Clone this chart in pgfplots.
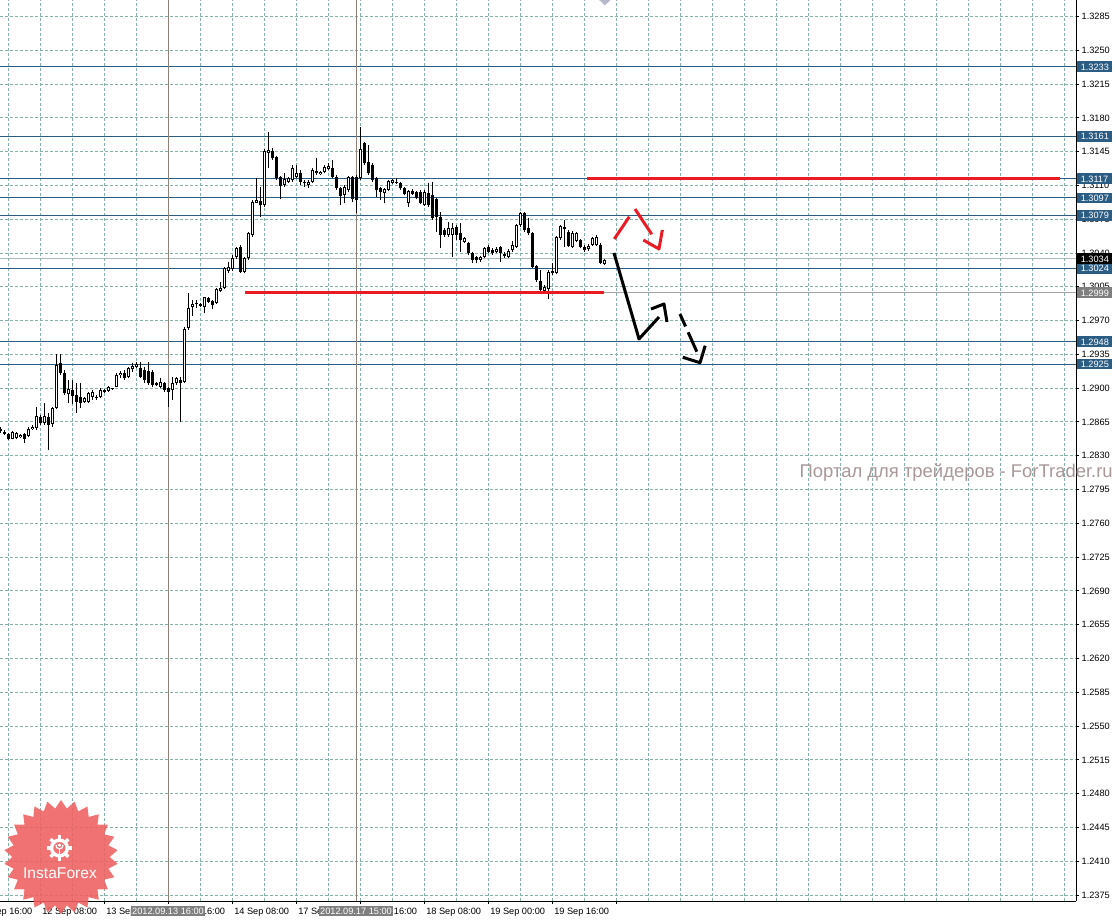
\documentclass[border=0pt]{standalone}
\usepackage{pgfplots}
\pgfplotsset{compat=1.18}
\usepackage{pgfplotstable}
\usepackage{fontspec}
\setmainfont{Liberation Sans}
\usetikzlibrary{shapes.geometric}

\definecolor{gridc}{HTML}{84B2AA}
\definecolor{levelc}{HTML}{2B5C84}
\definecolor{sepc}{HTML}{8E7F77}
\definecolor{trendred}{HTML}{EA1B24}
\definecolor{tagdark}{HTML}{7F7F7F}
\definecolor{bidc}{HTML}{A9B9BC}
\definecolor{wmark}{HTML}{A89898}
\definecolor{logored}{HTML}{EE5F5F}
\definecolor{shiftc}{HTML}{B8B8CC}

\newcommand\tfont{\fontsize{6.9}{8.3}\selectfont}

% EURUSD H1, hour index from 12 Sep 08:00 (weekend hours skipped)
\pgfplotstableread{
h O H L C
-10 1.28581 1.28595 1.28539 1.28553
-9 1.28550 1.28567 1.28515 1.28526
-8 1.28522 1.28533 1.28464 1.28470
-7 1.28477 1.28553 1.28470 1.28546
-6 1.28481 1.28546 1.28474 1.28539
-5 1.28491 1.28522 1.28484 1.28515
-4 1.28526 1.28539 1.28436 1.28477
-3 1.28505 1.28595 1.28498 1.28574
-2 1.28581 1.28619 1.28567 1.28602
-1 1.28584 1.28802 1.28567 1.28712
0 1.28698 1.28722 1.28619 1.28636
1 1.28636 1.28843 1.28619 1.28712
2 1.28698 1.28740 1.28360 1.28619
3 1.28629 1.28809 1.28602 1.28792
4 1.28798 1.29354 1.28781 1.29240
5 1.29258 1.29354 1.29137 1.29154
6 1.29161 1.29189 1.28930 1.28947
7 1.28937 1.29085 1.28843 1.28988
8 1.28981 1.29085 1.28836 1.28919
9 1.28930 1.29051 1.28747 1.28861
10 1.28912 1.29051 1.28792 1.28850
11 1.28861 1.28912 1.28843 1.28895
12 1.28861 1.28964 1.28843 1.28947
13 1.28912 1.28981 1.28878 1.28964
14 1.28912 1.28930 1.28878 1.28895
15 1.28912 1.28999 1.28895 1.28981
16 1.28964 1.28990 1.28955 1.28981
17 1.28975 1.29023 1.28964 1.29009
18 1.28999 1.29006 1.28985 1.28992
19 1.29016 1.29161 1.29009 1.29137
20 1.29137 1.29175 1.29102 1.29161
21 1.29161 1.29189 1.29085 1.29102
22 1.29120 1.29216 1.29102 1.29206
23 1.29196 1.29265 1.29171 1.29230
24 1.29223 1.29275 1.29206 1.29247
25 1.29206 1.29275 1.29102 1.29120
26 1.29189 1.29223 1.29051 1.29085
27 1.29182 1.29275 1.29033 1.29051
28 1.29171 1.29189 1.29016 1.29033
29 1.29051 1.29060 1.29025 1.29033
30 1.29016 1.29102 1.28999 1.29068
31 1.29051 1.29068 1.28964 1.28981
32 1.28999 1.29016 1.28809 1.28964
33 1.28981 1.29120 1.28878 1.29051
34 1.29051 1.29120 1.29033 1.29102
35 1.29085 1.29120 1.28653 1.29057
36 1.29067 1.29630 1.29050 1.29609
37 1.29620 1.29989 1.29602 1.29827
38 1.29837 1.29913 1.29747 1.29872
39 1.29868 1.29913 1.29827 1.29885
40 1.29868 1.29880 1.29840 1.29851
41 1.29837 1.29948 1.29775 1.29941
42 1.29930 1.29945 1.29885 1.29896
43 1.29903 1.29913 1.29816 1.29861
44 1.29879 1.30034 1.29868 1.30024
45 1.30010 1.30103 1.29999 1.30034
46 1.30034 1.30255 1.30024 1.30241
47 1.30217 1.30310 1.30189 1.30258
48 1.30231 1.30379 1.30217 1.30345
49 1.30355 1.30466 1.30338 1.30449
50 1.30466 1.30483 1.30190 1.30207
51 1.30207 1.30362 1.30190 1.30345
52 1.30345 1.30621 1.30328 1.30604
53 1.30587 1.30950 1.30570 1.30932
54 1.30922 1.31174 1.30915 1.30949
55 1.30939 1.31087 1.30777 1.30897
56 1.30897 1.31477 1.30880 1.31460
57 1.31440 1.31657 1.31277 1.31467
58 1.31457 1.31485 1.31364 1.31381
59 1.31391 1.31400 1.31157 1.31174
60 1.31191 1.31200 1.30956 1.31098
61 1.31105 1.31226 1.31087 1.31163
62 1.31139 1.31191 1.31122 1.31174
63 1.31156 1.31312 1.31140 1.31277
64 1.31184 1.31312 1.31174 1.31232
65 1.31226 1.31260 1.31105 1.31139
66 1.31139 1.31156 1.31087 1.31122
67 1.31105 1.31156 1.31070 1.31139
68 1.31139 1.31277 1.31129 1.31260
69 1.31253 1.31388 1.31208 1.31226
70 1.31215 1.31253 1.31205 1.31243
71 1.31243 1.31312 1.31226 1.31295
72 1.31270 1.31329 1.31260 1.31305
73 1.31277 1.31364 1.31174 1.31184
74 1.31191 1.31208 1.31053 1.31070
75 1.31070 1.31087 1.30897 1.30991
76 1.31001 1.31105 1.30915 1.31087
77 1.31053 1.31198 1.31036 1.31184
78 1.31191 1.31198 1.30932 1.30956
79 1.31184 1.31208 1.30811 1.30949
80 1.31174 1.31702 1.31156 1.31474
81 1.31536 1.31554 1.31312 1.31329
82 1.31346 1.31519 1.31208 1.31226
83 1.31312 1.31329 1.31139 1.31156
84 1.31174 1.31191 1.30984 1.31053
85 1.31070 1.31087 1.30949 1.31036
86 1.31025 1.31070 1.30915 1.31063
87 1.31053 1.31160 1.31040 1.31150
88 1.31122 1.31170 1.31110 1.31156
89 1.31139 1.31174 1.31115 1.31129
90 1.31122 1.31139 1.31053 1.31070
91 1.31070 1.31087 1.31001 1.31011
92 1.30922 1.31053 1.30880 1.31046
93 1.31046 1.31063 1.31001 1.31011
94 1.31036 1.31046 1.30956 1.30967
95 1.31036 1.31053 1.30905 1.30915
96 1.30897 1.31050 1.30890 1.31036
97 1.31018 1.31130 1.30880 1.30897
98 1.31001 1.31139 1.30742 1.30759
99 1.30956 1.30966 1.30621 1.30777
100 1.30777 1.30828 1.30449 1.30587
101 1.30638 1.30655 1.30570 1.30587
102 1.30587 1.30725 1.30570 1.30656
103 1.30587 1.30708 1.30362 1.30656
104 1.30673 1.30690 1.30535 1.30587
105 1.30604 1.30708 1.30414 1.30535
106 1.30518 1.30570 1.30500 1.30552
107 1.30500 1.30518 1.30379 1.30397
108 1.30397 1.30414 1.30293 1.30328
109 1.30355 1.30370 1.30293 1.30328
110 1.30328 1.30370 1.30310 1.30355
111 1.30362 1.30466 1.30345 1.30449
112 1.30466 1.30483 1.30397 1.30414
113 1.30431 1.30450 1.30380 1.30404
114 1.30414 1.30466 1.30397 1.30442
115 1.30459 1.30473 1.30310 1.30397
116 1.30390 1.30414 1.30345 1.30369
117 1.30362 1.30440 1.30345 1.30424
118 1.30431 1.30528 1.30414 1.30483
119 1.30466 1.30700 1.30450 1.30690
120 1.30690 1.30828 1.30673 1.30818
121 1.30811 1.30828 1.30621 1.30638
122 1.30656 1.30759 1.30587 1.30604
123 1.30604 1.30621 1.30241 1.30259
124 1.30266 1.30276 1.30103 1.30121
125 1.30110 1.30224 1.30000 1.30017
126 1.30010 1.30069 1.29989 1.30045
127 1.30024 1.30224 1.29920 1.30207
128 1.30217 1.30300 1.30172 1.30190
129 1.30197 1.30580 1.30180 1.30569
130 1.30552 1.30690 1.30540 1.30680
131 1.30673 1.30742 1.30466 1.30645
132 1.30621 1.30640 1.30460 1.30473
133 1.30466 1.30625 1.30450 1.30611
134 1.30528 1.30620 1.30510 1.30604
135 1.30535 1.30550 1.30450 1.30466
136 1.30466 1.30483 1.30414 1.30431
137 1.30438 1.30490 1.30420 1.30473
138 1.30483 1.30570 1.30470 1.30552
139 1.30483 1.30590 1.30470 1.30569
140 1.30483 1.30500 1.30290 1.30300
141 1.30286 1.30340 1.30280 1.30330
}\eurusd

\tikzset{
  pricetag/.style={anchor=west, text=white, font=\tfont, inner xsep=2.6pt,
    inner ysep=1.5pt, text height=5.1pt, text depth=0pt, xshift=0.75pt},
  timetag/.style={anchor=north, fill=tagdark, text=white, font=\tfont, inner xsep=1.2pt,
    inner ysep=1.3pt, text height=5.1pt, text depth=0pt, yshift=-3.6pt},
}
% a bare set of vertical segments drawn from the table as error bars
\pgfplotsset{
  candlepart/.style={draw=none, mark=none, error bars/.cd, y dir=plus, y explicit,
    error mark=none, error bar style={draw=#1}},
}

\begin{document}
\begin{tikzpicture}
\fill[white] (0,-15pt) rectangle (837pt,675.75pt);
\begin{axis}[
  at={(0,0)}, anchor=south west,
  scale only axis, width=807pt, height=675.75pt,
  xmin=-10, xmax=259, ymin=1.23688, ymax=1.33021,
  axis x line*=bottom, axis y line*=right,
  axis line style={black, line width=0.75pt, -},
  tick align=outside, major tick length=2.25pt, minor tick length=0pt,
  tick style={black, line width=0.75pt},
  clip mode=individual,
  xtick={0,16,...,144},
  xticklabels={12 Sep 08:00,13 Sep 00:00,13 Sep 16:00,14 Sep 08:00,17 Sep 00:00,17 Sep 16:00,18 Sep 08:00,19 Sep 00:00,19 Sep 16:00,{}},
  minor xtick={-8,0,...,256},
  xminorgrids,
  ytick={1.2375,1.2410,1.2445,1.2480,1.2515,1.2550,1.2585,1.2620,1.2655,1.2690,1.2725,1.2760,1.2795,1.2830,1.2865,1.2900,1.2935,1.2970,1.3005,1.3040,1.3075,1.3110,1.3145,1.3180,1.3215,1.3250,1.3285},
  yticklabels={1.2375,1.2410,1.2445,1.2480,1.2515,1.2550,1.2585,1.2620,1.2655,1.2690,1.2725,1.2760,1.2795,1.2830,1.2865,1.2900,1.2935,1.2970,1.3005,1.3040,1.3075,1.3110,1.3145,1.3180,1.3215,1.3250,1.3285},
  ymajorgrids,
  major grid style={gridc, line width=0.75pt, dash pattern=on 2.25pt off 1.5pt},
  minor grid style={gridc, line width=0.75pt, dash pattern=on 2.25pt off 1.5pt},
  xticklabel style={font=\tfont, anchor=north west, inner sep=0pt, xshift=1.5pt, yshift=-2.6pt},
  yticklabel style={font=\tfont, anchor=west, inner sep=0pt, xshift=1.8pt},
]
% horizontal levels
\addplot[levelc, line width=0.75pt] coordinates {(-10,1.3233) (259,1.3233)};
\addplot[levelc, line width=0.75pt] coordinates {(-10,1.3161) (259,1.3161)};
\addplot[levelc, line width=0.75pt] coordinates {(-10,1.3117) (259,1.3117)};
\addplot[levelc, line width=0.75pt] coordinates {(-10,1.3097) (259,1.3097)};
\addplot[levelc, line width=0.75pt] coordinates {(-10,1.3079) (259,1.3079)};
\addplot[levelc, line width=0.75pt] coordinates {(-10,1.3024) (259,1.3024)};
\addplot[levelc, line width=0.75pt] coordinates {(-10,1.2948) (259,1.2948)};
\addplot[levelc, line width=0.75pt] coordinates {(-10,1.2925) (259,1.2925)};
\addplot[bidc, line width=0.75pt] coordinates {(-10,1.3034) (259,1.3034)};
\addplot[tagdark!70, line width=0.75pt] coordinates {(141,1.2999) (259,1.2999)};
% vertical markers
\addplot[sepc, line width=0.75pt] coordinates {(32,1.23688) (32,1.33021)};
\addplot[sepc, line width=0.75pt] coordinates {(79,1.23688) (79,1.33021)};
% candle wicks
\addplot[candlepart=black, error bar style={line width=0.75pt}]
  table[x=h, y=L, y error expr={\thisrow{H}-\thisrow{L}}] {\eurusd};
% candle bodies
\addplot[candlepart=black, error bar style={line width=2.25pt}]
  table[x=h, y expr={min(\thisrow{O},\thisrow{C})}, y error expr={max(abs(\thisrow{C}-\thisrow{O}),0.0001)}] {\eurusd};
% hollow inside of rising candles
\addplot[candlepart=white, error bar style={line width=0.75pt}]
  table[x=h, y expr={\thisrow{O}+0.0001}, y error expr={max(\thisrow{C}-\thisrow{O}-0.0002,0)}] {\eurusd};
% trend lines
\addplot[trendred, line width=2.25pt] coordinates {(51.25,1.2999) (141,1.2999)};
\addplot[trendred, line width=2.25pt] coordinates {(136.75,1.3117) (255,1.3117)};
% forecast arrows
\addplot[black, line width=2.25pt, line join=round] coordinates {(143.5,1.30400) (149.75,1.29510) (154.75,1.29737)};
\addplot[black, line width=2.25pt, line join=round] coordinates {(152.75,1.29820) (156,1.29872) (156.75,1.29686)};
\addplot[black, line width=2.25pt, dash pattern=on 10.2pt off 4.8pt on 20pt off 2pt] coordinates {(160,1.29768) (164.2,1.29378)};
\addplot[black, line width=2.25pt, line join=round] coordinates {(160.7,1.29320) (165,1.29264) (166.3,1.29440)};
\addplot[trendred, line width=2.25pt] coordinates {(143.575,1.30545) (147.325,1.30776)};
\addplot[trendred, line width=2.25pt] coordinates {(148.75,1.30856) (152.93,1.30594)};
\addplot[trendred, line width=2.25pt, line join=round] coordinates {(150.83,1.30535) (154.75,1.30442) (155.58,1.30639)};
% chart shift marker
\addplot[fill=shiftc, draw=none] coordinates {(139.8,1.33021) (142.6,1.33021) (141.2,1.32965)};
% anchors for the tags
\coordinate (t1) at (axis cs:259,1.3233);
\coordinate (t2) at (axis cs:259,1.3161);
\coordinate (t3) at (axis cs:259,1.3117);
\coordinate (t4) at (axis cs:259,1.3097);
\coordinate (t5) at (axis cs:259,1.3079);
\coordinate (t6) at (axis cs:259,1.3034);
\coordinate (t7) at (axis cs:259,1.3024);
\coordinate (t8) at (axis cs:259,1.2999);
\coordinate (t9) at (axis cs:259,1.2948);
\coordinate (t10) at (axis cs:259,1.2925);
\coordinate (v1) at (axis cs:32,1.23688);
\coordinate (v2) at (axis cs:79,1.23688);
\coordinate (x0) at (axis cs:-16,1.23688);
\coordinate (wm) at (axis cs:259,1.28070);
\end{axis}
% first, partly hidden time label
\node[font=\tfont, anchor=north west, inner sep=0pt, xshift=1.5pt, yshift=-4.85pt] at (x0) {11 Sep 16:00};
% price tags
\node[pricetag, fill=levelc] at (t1) {1.3233};
\node[pricetag, fill=levelc] at (t2) {1.3161};
\node[pricetag, fill=levelc] at (t3) {1.3117};
\node[pricetag, fill=levelc] at (t4) {1.3097};
\node[pricetag, fill=levelc] at (t5) {1.3079};
\node[pricetag, fill=levelc] at (t7) {1.3024};
\node[pricetag, fill=black] at (t6) {1.3034};
\node[pricetag, fill=tagdark] at (t8) {1.2999};
\node[pricetag, fill=levelc] at (t9) {1.2948};
\node[pricetag, fill=levelc] at (t10) {1.2925};
% time tags of the vertical lines
\node[timetag] at (v1) {2012.09.13 16:00};
\node[timetag] at (v2) {2012.09.17 15:00};
% watermark
\node[anchor=base east, inner sep=0pt, text=wmark, xshift=27.75pt] at (wm)
  {\resizebox{234.75pt}{!}{\fontsize{13}{15}\selectfont Портал для трейдеров - ForTrader.ru}};
% logo
\node[star, star points=26, star point ratio=1.17, minimum size=85.5pt, inner sep=0pt,
  fill=logored, fill opacity=0.88, draw=none] at (45.75pt,33pt) {};
\begin{scope}[shift={(44.6pt,39.75pt)}]
  \fill[white, even odd rule] (0,0) circle (7.2pt) (0,0) circle (4.6pt);
  \foreach \a in {0,45,...,315}
    \fill[white, rotate=\a] (-1.3pt,6pt) rectangle (1.3pt,9.4pt);
  \fill[white] (0,2.2pt) circle (1.3pt);
  \draw[white, line width=1.1pt] (0,-4.8pt) -- (0,0.2pt);
  \draw[white, line width=0.9pt] (-2.6pt,2.4pt) .. controls (-2.4pt,0pt) .. (0,-0.6pt) .. controls (2.4pt,0pt) .. (2.6pt,2.4pt);
\end{scope}
\node[text=white, inner sep=0pt, font=\fontsize{11.7}{13}\selectfont] at (45pt,21pt) {InstaForex};
\pgfresetboundingbox
\path[use as bounding box] (0,-15pt) rectangle (837pt,675.75pt);
\end{tikzpicture}
\end{document}
